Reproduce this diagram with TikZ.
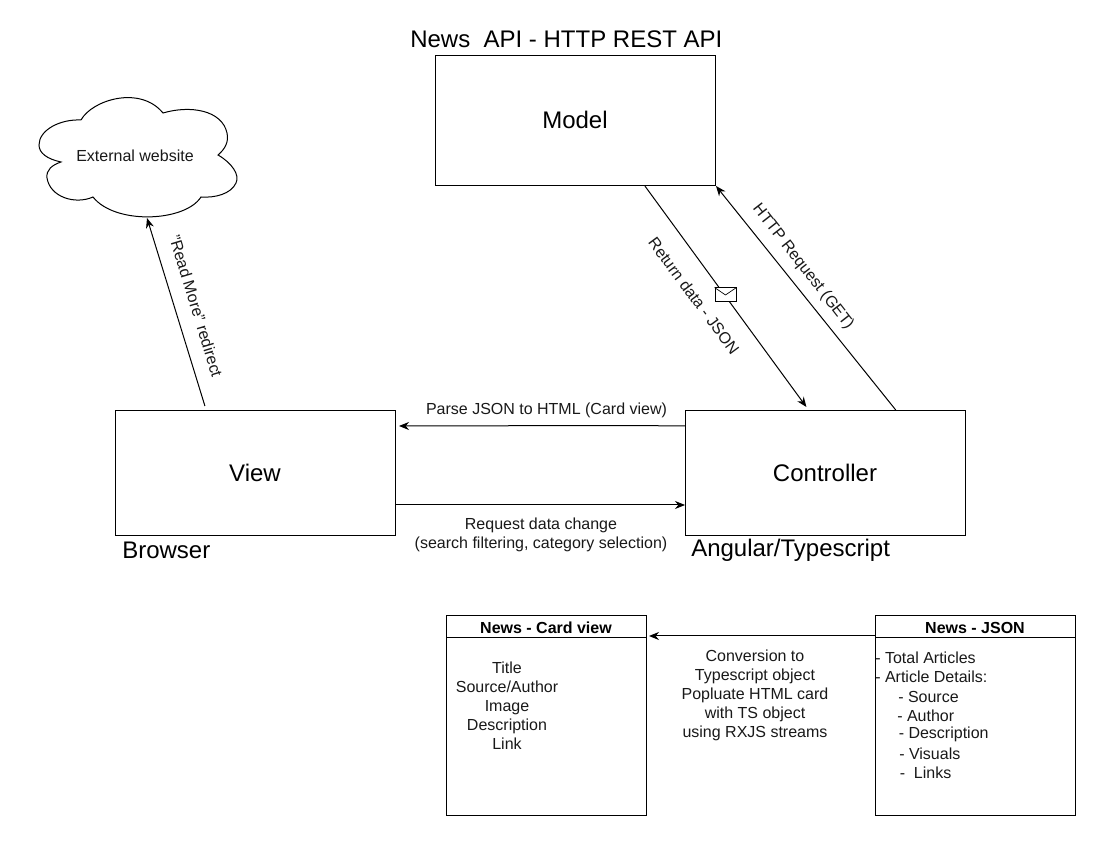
\documentclass[tikz,border=0pt]{standalone}
\usepackage{fontspec}
\setmainfont{Liberation Sans}
\usetikzlibrary{arrows.meta,calc}
\tikzset{
  box/.style={draw=black,line width=0.75pt,inner sep=0pt,anchor=north west,rectangle,fill=white},
  conn/.style={draw=black,line width=0.75pt,-{Stealth[length=7.5pt,width=6pt]}},
  big/.style={font=\fontsize{18}{21}\selectfont,inner sep=0pt,text=black},
  txt/.style={font=\fontsize{12}{14.25}\selectfont,inner sep=0pt,text=black!90,align=center},
  item/.style={font=\fontsize{12}{14.25}\selectfont,inner sep=0pt,text=black!90,anchor=west},
  head/.style={font=\bfseries\fontsize{12}{14}\selectfont,inner sep=0pt,text=black},
}
\begin{document}
\begin{tikzpicture}[x=0.75pt,y=-0.75pt]
\useasboundingbox (0,0) rectangle (1101,841);
\fill[white] (0,0) rectangle (1101,841);
% main boxes
\node[box,minimum width=210pt,minimum height=97.5pt] (model) at (435,55) {};
\node[box,minimum width=210pt,minimum height=93.75pt] (view) at (115,410) {};
\node[box,minimum width=210pt,minimum height=93.75pt] (ctrl) at (685,410) {};
\node[big] (modeltxt) at (575,120) {Model};
\node[big] (viewtxt) at (255,473) {View};
\node[big] (ctrltxt) at (825,473) {Controller};
\node[big,anchor=west] (apitxt) at (410,39) {News\ \ API - HTTP REST API};
\node[big,anchor=west] (browser) at (122,550) {Browser};
\node[big,anchor=west] (angular) at (691,550) {Angular/Typescript};
% cloud
\draw[line width=0.75pt,fill=white] (81,120)
  .. controls (92,100) and (140,85) .. (163,113)
  .. controls (190,105) and (222,110) .. (227,133)
  .. controls (229,142) and (225,149) .. (218,155)
  .. controls (232,163) and (240,175) .. (236,183)
  .. controls (231,194) and (215,198) .. (201,197)
  .. controls (185,222) and (115,225) .. (93,197)
  .. controls (75,205) and (50,197) .. (47,178)
  .. controls (46,170) and (52,165) .. (61,162)
  .. controls (47,159) and (39,153) .. (39,145)
  .. controls (39,130) and (60,119) .. (81,120);
\node[txt] (ext) at (135,155.5) {External website};
\coordinate (cloudb) at (147,218);
% connectors
\coordinate (c1) at ($(model.south west)!0.747!(model.south east)$);
\coordinate (c2) at ($(ctrl.north west)!0.432!(ctrl.north east)+(0,-3)$);
\draw[conn] (c1) -- (c2);
\coordinate (c3) at ($(ctrl.north west)!0.75!(ctrl.north east)$);
\draw[conn] (c3) -- (model.south east);
\coordinate (c4) at ($(ctrl.north west)+(0,16)$);
\coordinate (c5) at ($(view.north east)+(3,16)$);
\draw[conn] (c4) .. controls (600,425) and (500,426) .. (c5);
\coordinate (c6) at ($(view.south east)+(0,-31)$);
\coordinate (c7) at ($(ctrl.south west)+(0,-31)$);
\draw[conn] (c6) -- (c7);
\coordinate (c8) at ($(view.north west)!0.32!(view.north east)+(0,-4)$);
\draw[conn] (c8) -- (cloudb);
% envelope
\node[draw=black,line width=0.75pt,fill=white,minimum width=15.75pt,minimum height=10.5pt,inner sep=0pt] (env) at (725.5,295) {};
\draw[line width=0.5pt] (env.north west) -- (env.center) -- (env.north east);
% connector labels
\node[txt,rotate=-53.5] (ret) at (694,296) {Return data - JSON};
\node[txt,rotate=-52] (http) at (803,267) {HTTP Request (GET)};
\node[txt,rotate=-73] (read) at (196,306) {"Read More" redirect};
\node[txt] (parse) at (546.5,410.5) {Parse JSON to HTML (Card view)};
\node[txt] (req) at (541,535) {Request data change\\(search filtering, category selection)};
% class boxes
\node[box,minimum width=150pt,minimum height=150pt] (card) at (446,615) {};
\coordinate (cardl) at ($(card.north west)+(0,23)$);
\coordinate (cardr) at ($(card.north east)+(0,23)$);
\draw[line width=0.75pt] (cardl) -- (cardr);
\node[head] (cardh) at (546,628) {News - Card view};
\node[txt] (cardtxt) at (507,705.5) {Title\\Source/Author\\Image\\Description\\Link};
\node[box,minimum width=150pt,minimum height=150pt] (json) at (875,615) {};
\coordinate (jsonl) at ($(json.north west)+(0,23)$);
\coordinate (jsonr) at ($(json.north east)+(0,23)$);
\draw[line width=0.75pt] (jsonl) -- (jsonr);
\node[head] (jsonh) at (975,628) {News - JSON};
\node[item] (j1) at (875,657.5) {- Total Articles};
\node[item] (j2) at (875,676.5) {- Article Details:};
\node[item] (j3) at (898,696.5) {- Source};
\node[item] (j4) at (897,715.5) {- Author};
\node[item] (j5) at (898.5,734.5) {- Description};
\node[item] (j6) at (899,753.5) {- Visuals};
\node[item] (j7) at (899.5,772.5) {-\ \ Links};
\coordinate (a1) at ($(json.north west)+(0,21)$);
\coordinate (a2) at ($(card.north east)+(2,21)$);
\draw[conn] (a1) -- (a2);
\node[txt] (conv) at (755,695) {Conversion to\\Typescript object\\Popluate HTML card\\with TS object\\using RXJS streams};
\end{tikzpicture}
\end{document}
